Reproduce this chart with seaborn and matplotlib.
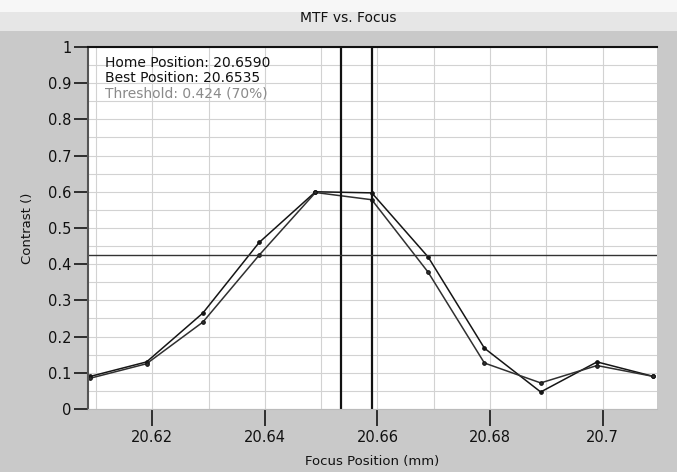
import numpy as np
import pandas as pd
import matplotlib
matplotlib.use("Agg")
import matplotlib.pyplot as plt
from matplotlib.ticker import MultipleLocator
from matplotlib.patches import Rectangle
import seaborn as sns

# valeurs
focus = [20.609, 20.619, 20.629, 20.639, 20.649, 20.659, 20.669, 20.679, 20.689, 20.699, 20.709]
contrast_a = [0.090, 0.130, 0.265, 0.460, 0.600, 0.597, 0.420, 0.168, 0.047, 0.130, 0.090]
contrast_b = [0.085, 0.125, 0.240, 0.425, 0.598, 0.578, 0.378, 0.127, 0.072, 0.120, 0.090]
home_pos = 20.6590
best_pos = 20.6535
threshold = 0.424
x_ticks = [20.62, 20.64, 20.66, 20.68, 20.7]
x_tick_labels = ["20.62", "20.64", "20.66", "20.68", "20.7"]
y_ticks = [0, 0.1, 0.2, 0.3, 0.4, 0.5, 0.6, 0.7, 0.8, 0.9, 1]
y_tick_labels = ["0", "0.1", "0.2", "0.3", "0.4", "0.5", "0.6", "0.7", "0.8", "0.9", "1"]
info_lines = ["Home Position: 20.6590", "Best Position: 20.6535", "Threshold: 0.424 (70%)"]
info_colors = ["#111111", "#111111", "#8a8a8a"]

df = pd.DataFrame({
    "focus": focus * 2,
    "contrast": contrast_a + contrast_b,
    "serie": ["A"] * len(focus) + ["B"] * len(focus),
})

sns.set_style("white")
plt.rcParams["font.family"] = ["DejaVu Sans"]

fig = plt.figure(figsize=(6.77, 4.72), dpi=100)
fig.patch.set_facecolor("#c9c9c9")
# bandeau clair du haut (fenêtre)
fig.patches.append(Rectangle((0, 0.935), 1, 0.065, transform=fig.transFigure,
                             facecolor="#e6e6e6", edgecolor="none", zorder=0))
fig.patches.append(Rectangle((0, 0.975), 1, 0.025, transform=fig.transFigure,
                             facecolor="#f7f7f7", edgecolor="none", zorder=0))

ax = fig.add_axes([0.130, 0.1335, 0.840, 0.767])
ax.set_facecolor("white")

sns.lineplot(data=df, x="focus", y="contrast", hue="serie", palette=["#151515", "#303030"],
             marker="o", markersize=2.6, markeredgecolor="#111111", linewidth=1.1,
             legend=False, ax=ax)

ax.axvline(best_pos, color="#111111", lw=1.6)
ax.axvline(home_pos, color="#111111", lw=1.6)
ax.axhline(threshold, color="#333333", lw=1.0)

ax.set_xlim(20.6086, 20.7096)
ax.set_ylim(0, 1)
ax.set_xticks(x_ticks)
ax.set_xticklabels(x_tick_labels)
ax.set_yticks(y_ticks)
ax.set_yticklabels(y_tick_labels)
ax.xaxis.set_minor_locator(MultipleLocator(0.01))
ax.yaxis.set_minor_locator(MultipleLocator(0.05))
ax.grid(True, which="both", color="#d2d2d2", lw=0.8)
ax.tick_params(axis="y", which="major", direction="out", length=10, width=1.3,
               color="#222222", labelsize=10.5, labelcolor="#111111", pad=2, left=True)
ax.tick_params(axis="x", which="major", direction="out", length=12, width=1.3,
               color="#222222", labelsize=10.5, labelcolor="#111111", pad=3, bottom=True)
ax.tick_params(axis="both", which="minor", length=0)

ax.spines["top"].set_color("#111111")
ax.spines["top"].set_linewidth(1.5)
ax.spines["left"].set_color("#555555")
ax.spines["left"].set_linewidth(1.5)
ax.spines["bottom"].set_color("#bbbbbb")
ax.spines["right"].set_visible(False)

ax.set_xlabel("Focus Position (mm)", fontsize=9.5, labelpad=7, color="#111111")
ax.set_ylabel("Contrast ()", fontsize=9.5, labelpad=10, color="#111111")
fig.text(0.515, 0.962, "MTF vs. Focus", ha="center", va="center", fontsize=10,
         color="#111111")

for i, (txt, col) in enumerate(zip(info_lines, info_colors)):
    ax.text(0.03, 0.956 - i * 0.042, txt, transform=ax.transAxes, fontsize=10,
            va="center", color=col)

fig.savefig("out.png", dpi=100, facecolor=fig.get_facecolor())
